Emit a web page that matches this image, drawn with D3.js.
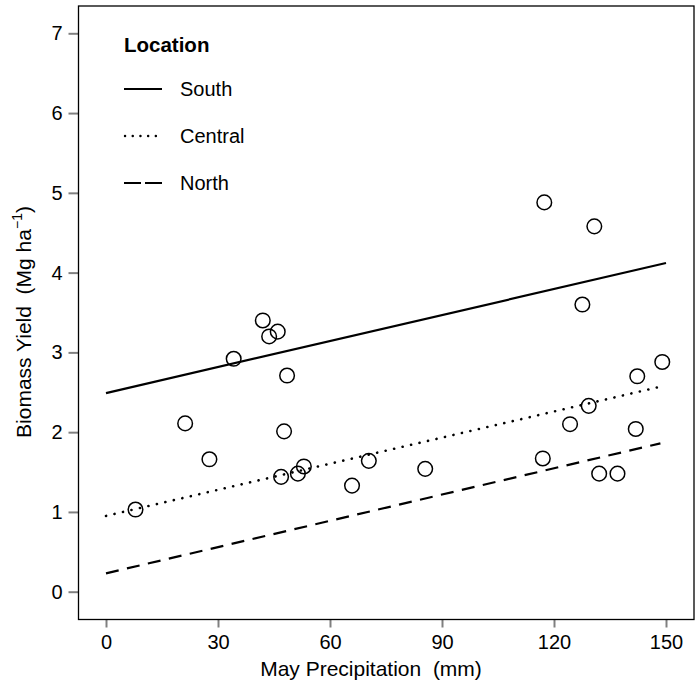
<!DOCTYPE html>
<html>
<head>
<meta charset="utf-8">
<script src="https://cdn.jsdelivr.net/npm/d3@7"></script>
<style>
  body { margin: 0; background: #fff; }
  text { font-family: "Liberation Sans", Arial, sans-serif; }
</style>
</head>
<body>
<script>
// observed points (May precipitation mm, biomass Mg/ha)
const precip = [7.9, 21.2, 27.7, 34.2, 42.0, 43.7, 46.0, 48.5, 47.7, 46.9, 51.4, 53.0,
  65.9, 70.4, 85.5, 117.4, 117.0, 124.3, 127.6, 129.3, 130.8, 132.1, 137.0, 141.9, 142.3, 149.0];
const yieldVals = [1.03, 2.11, 1.66, 2.92, 3.40, 3.20, 3.26, 2.71, 2.01, 1.44, 1.48, 1.57,
  1.33, 1.64, 1.54, 4.88, 1.67, 2.10, 3.60, 2.33, 4.58, 1.48, 1.48, 2.04, 2.70, 2.88];

// fitted lines per location: start and end [x, y]
const locations = ["South", "Central", "North"];
const lineStart = [[0, 2.49], [0, 0.95], [0, 0.23]];
const lineEnd = [[150, 4.12], [148.5, 2.57], [148.5, 1.86]];
const dashes = ["none", "0.1,8.6", "13,8.5"];
const legendDashes = ["none", "0.1,7.6", "17,4"];

const xTicks = [0, 30, 60, 90, 120, 150];
const yTicks = [0, 1, 2, 3, 4, 5, 6, 7];

const W = 700, H = 688;
const box = { left: 78.5, right: 694, top: 6, bottom: 619.5 };

const svg = d3.select("body").append("svg")
  .attr("width", W)
  .attr("height", H);

const x = d3.scaleLinear().domain([0, 150]).range([106, 666]);
const y = d3.scaleLinear().domain([0, 7]).range([591.7, 33.3]);

// axes (gray ticks outside the frame)
const xAxis = svg.append("g")
  .attr("transform", "translate(0," + box.bottom + ")")
  .call(d3.axisBottom(x).tickValues(xTicks).tickFormat(d3.format("d")).tickSize(8).tickPadding(7));
const yAxis = svg.append("g")
  .attr("transform", "translate(" + box.left + ",0)")
  .call(d3.axisLeft(y).tickValues(yTicks).tickFormat(d3.format("d")).tickSize(10).tickPadding(6));

[xAxis, yAxis].forEach(g => {
  g.select(".domain").remove();
  g.selectAll(".tick line").attr("stroke", "#808080").attr("stroke-width", 2);
  g.selectAll(".tick text").attr("fill", "#000").style("font-size", "20px")
    .style("font-family", "'Liberation Sans', Arial, sans-serif");
});

// frame
svg.append("rect")
  .attr("x", box.left).attr("y", box.top)
  .attr("width", box.right - box.left).attr("height", box.bottom - box.top)
  .attr("fill", "none").attr("stroke", "#000").attr("stroke-width", 1.3);

// regression lines
locations.forEach((loc, i) => {
  svg.append("line")
    .attr("x1", x(lineStart[i][0])).attr("y1", y(lineStart[i][1]))
    .attr("x2", x(lineEnd[i][0])).attr("y2", y(lineEnd[i][1]))
    .attr("stroke", "#000")
    .attr("stroke-width", i == 1 ? 2.6 : 2.2)
    .attr("stroke-dasharray", dashes[i])
    .attr("stroke-linecap", i == 1 ? "round" : "butt");
});

// points
svg.selectAll("circle.pt")
  .data(precip)
  .enter()
  .append("circle")
  .attr("class", "pt")
  .attr("cx", d => x(d))
  .attr("cy", (d, i) => y(yieldVals[i]))
  .attr("r", 7.3)
  .attr("fill", "none")
  .attr("stroke", "#000")
  .attr("stroke-width", 1.5);

// legend
const legend = svg.append("g");
legend.append("text")
  .attr("x", 124).attr("y", 52)
  .style("font-size", "20.5px").style("font-weight", "bold")
  .text("Location");
locations.forEach((loc, i) => {
  const ly = 89 + i * 47;
  legend.append("line")
    .attr("x1", i == 1 ? 125 : 124).attr("x2", 162)
    .attr("y1", ly).attr("y2", ly)
    .attr("stroke", "#000").attr("stroke-width", i == 1 ? 2.4 : 2.2)
    .attr("stroke-dasharray", legendDashes[i])
    .attr("stroke-linecap", i == 1 ? "round" : "butt");
  legend.append("text")
    .attr("x", 180).attr("y", ly + 7)
    .style("font-size", "20px")
    .text(loc);
});

// axis titles
svg.append("text")
  .attr("x", 371).attr("y", 676)
  .attr("text-anchor", "middle")
  .style("font-size", "21px")
  .text("May Precipitation\u00a0\u00a0(mm)");

const yt = svg.append("text")
  .attr("transform", "translate(31,322) rotate(-90)")
  .attr("text-anchor", "middle")
  .style("font-size", "21px");
yt.append("tspan").text("Biomass Yield\u00a0\u00a0(Mg ha");
yt.append("tspan").attr("dy", -9).style("font-size", "14px").text("\u22121");
yt.append("tspan").attr("dy", 9).text(")");
</script>
</body>
</html>
